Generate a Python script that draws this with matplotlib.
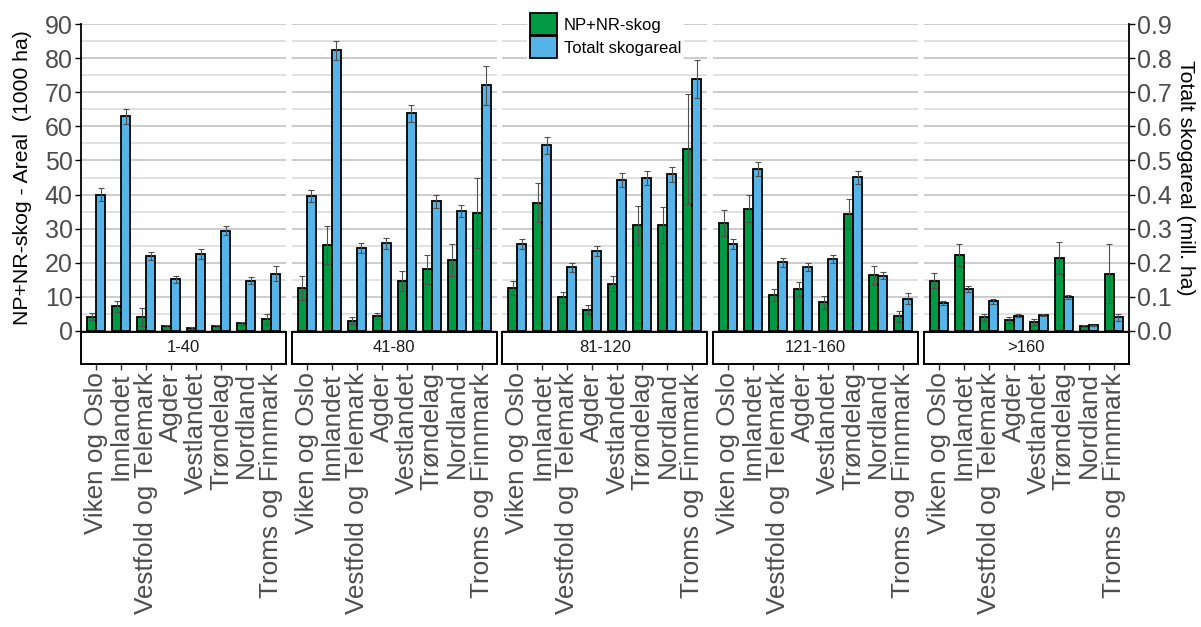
import numpy as np
import matplotlib
matplotlib.use("Agg")
import matplotlib.pyplot as plt
from matplotlib.patches import Patch

plt.rcParams["font.family"] = ["Liberation Sans", "DejaVu Sans"]

classes = ["1-40", "41-80", "81-120", "121-160", ">160"]
regions = ["Viken og Oslo", "Innlandet", "Vestfold og Telemark", "Agder",
           "Vestlandet", "Trøndelag", "Nordland", "Troms og Finnmark"]

# NP+NR-skog, 1000 ha (one row per class)
np_nr = [
    [4.2, 7.3, 4.1, 1.6, 0.9, 1.5, 2.2, 3.4],
    [12.5, 25.2, 3.0, 4.5, 14.7, 18.1, 20.9, 34.6],
    [12.6, 37.6, 9.9, 6.2, 13.9, 31.0, 31.1, 53.4],
    [31.6, 35.9, 10.6, 12.4, 8.4, 34.4, 16.5, 4.3],
    [14.7, 22.3, 4.0, 3.3, 2.7, 21.5, 1.4, 16.8],
]
np_nr_err = [
    [1.0, 1.6, 2.7, 0.3, 0.2, 0.3, 0.5, 1.5],
    [3.5, 5.7, 1.0, 0.9, 2.9, 4.3, 4.7, 10.3],
    [2.1, 5.7, 1.6, 1.3, 2.2, 5.7, 5.3, 16.1],
    [3.8, 4.0, 1.8, 2.1, 1.9, 4.4, 2.6, 1.7],
    [2.2, 3.3, 1.1, 0.9, 0.9, 4.7, 0.3, 8.6],
]
# Totalt skogareal, mill. ha
total = [
    [0.400, 0.630, 0.221, 0.152, 0.225, 0.294, 0.148, 0.168],
    [0.396, 0.823, 0.244, 0.257, 0.638, 0.381, 0.352, 0.720],
    [0.255, 0.545, 0.187, 0.235, 0.442, 0.449, 0.459, 0.738],
    [0.256, 0.475, 0.201, 0.188, 0.212, 0.450, 0.162, 0.095],
    [0.082, 0.123, 0.087, 0.045, 0.047, 0.100, 0.017, 0.040],
]
total_err = [
    [0.018, 0.022, 0.012, 0.010, 0.014, 0.014, 0.011, 0.022],
    [0.018, 0.028, 0.014, 0.017, 0.026, 0.019, 0.018, 0.058],
    [0.016, 0.025, 0.013, 0.014, 0.020, 0.020, 0.022, 0.056],
    [0.015, 0.020, 0.014, 0.012, 0.012, 0.019, 0.011, 0.017],
    [0.006, 0.009, 0.008, 0.004, 0.004, 0.007, 0.002, 0.011],
]

green = "#009a44"
blue = "#56b4e9"
tick_col = "#4d4d4d"

W, H = 1201, 627
fig = plt.figure(figsize=(W / 100, H / 100), dpi=100)

x = np.arange(len(regions))
bw = 0.36
err_kw = dict(ecolor="#505050", elinewidth=0.8, capsize=2.5, capthick=0.8)

for i, cls in enumerate(classes):
    left = (81 + i * 210.7) / W
    ax = fig.add_axes([left, 1 - 331 / H, 205 / W, 307 / H])
    ax2 = ax.twinx()

    ax.set_ylim(0, 90)
    ax2.set_ylim(0, 0.9)
    ax.set_xlim(-0.6, len(regions) - 0.4)

    ax.set_yticks(np.arange(0, 91, 10))
    ax.set_yticks(np.arange(5, 90, 10), minor=True)
    ax.grid(axis="y", which="major", color="#c8c8c8", lw=1.3)
    ax.grid(axis="y", which="minor", color="#d8d8d8", lw=1.1)
    ax.set_axisbelow(True)

    ax.bar(x - bw / 2, np_nr[i], bw, color=green, edgecolor="black", lw=1.3,
           yerr=np_nr_err[i], error_kw=err_kw, zorder=2)
    ax2.bar(x + bw / 2, total[i], bw, color=blue, edgecolor="black", lw=1.3,
            yerr=total_err[i], error_kw=err_kw, zorder=2)

    for a in (ax, ax2):
        for s in a.spines.values():
            s.set_visible(False)
        a.set_xticks([])
        a.tick_params(axis="y", which="both", length=0, labelleft=False, labelright=False)

    if i == 0:
        ax.spines["left"].set_visible(True)
        ax.spines["left"].set_linewidth(1.3)
        ax.tick_params(axis="y", which="major", length=4, width=1, labelleft=True,
                       labelsize=18, labelcolor=tick_col, pad=2)
    if i == len(classes) - 1:
        ax2.spines["right"].set_visible(True)
        ax2.spines["right"].set_linewidth(1.3)
        ax2.set_yticks(np.arange(0, 0.91, 0.1))
        ax2.set_yticklabels([f"{v:.1f}" for v in np.arange(0, 0.91, 0.1)])
        ax2.tick_params(axis="y", which="major", length=4, width=1, labelright=True,
                        labelsize=18, labelcolor=tick_col, pad=2)

    # strip with class label and region tick labels
    sx = fig.add_axes([left, 1 - 364 / H, 205 / W, 32 / H])
    sx.set_xlim(ax.get_xlim())
    sx.set_ylim(0, 1)
    sx.set_yticks([])
    for s in sx.spines.values():
        s.set_linewidth(1.4)
    sx.text(0.5, 0.5, cls, transform=sx.transAxes, ha="center", va="center",
            fontsize=12, color="#1a1a1a")
    sx.set_xticks(x)
    sx.set_xticklabels(regions, rotation=90, fontsize=18.8, color=tick_col)
    sx.tick_params(axis="x", length=4, width=1, color="#333333", pad=2)

fig.text(0.0185, 1 - 177.5 / H, "NP+NR-skog - Areal  (1000 ha)", rotation=90,
         ha="center", va="center", fontsize=15.3)
fig.text(0.9875, 1 - 177.5 / H, "Totalt skogareal (mill. ha)", rotation=270,
         ha="center", va="center", fontsize=15.3)

handles = [Patch(facecolor=green, edgecolor="black", lw=1.3, label="NP+NR-skog"),
           Patch(facecolor=blue, edgecolor="black", lw=1.3, label="Totalt skogareal")]
fig.legend(handles=handles, loc="upper left", bbox_to_anchor=(527 / W, 1 - 10 / H),
           borderaxespad=0, borderpad=0.2, fontsize=12, handlelength=1.6,
           handleheight=1.6, handletextpad=0.4, labelspacing=0.1,
           frameon=True, facecolor="white", edgecolor="none", framealpha=1,
           fancybox=False)

fig.savefig("out.png", dpi=100)
